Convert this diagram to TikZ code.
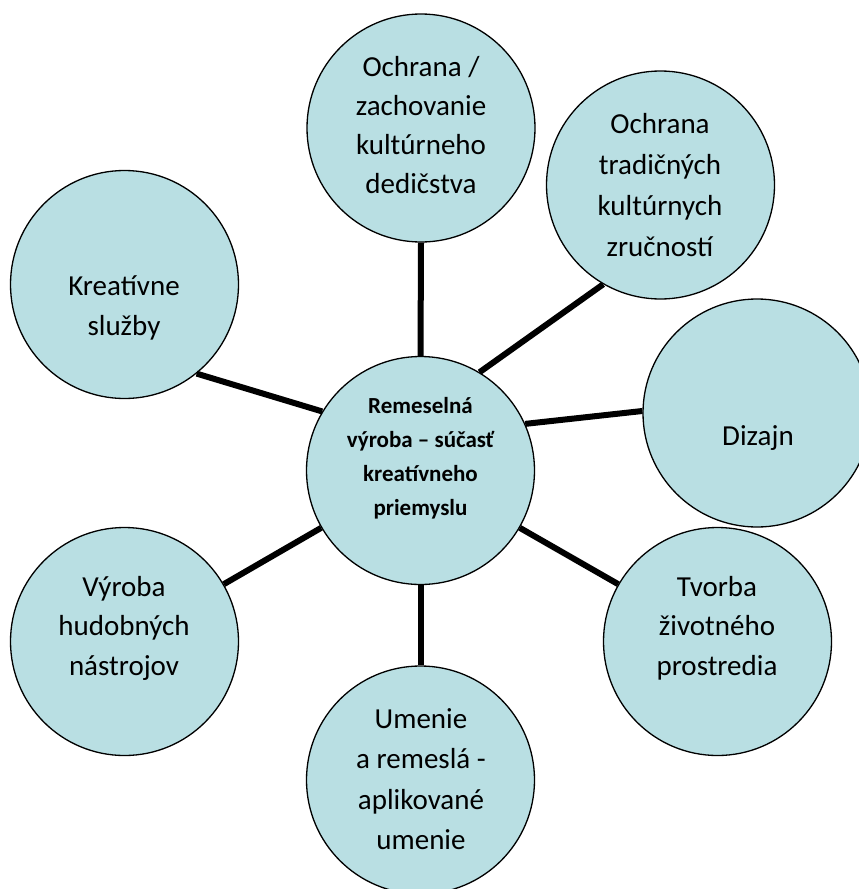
\documentclass[tikz,border=0pt]{standalone}
\usepackage{fontspec}
\setmainfont{Carlito}
\definecolor{bubble}{RGB}{185,223,227}
\tikzset{
  bubblenode/.style={circle, draw=black, line width=1.3pt, fill=bubble,
    minimum size=228pt, inner sep=0pt},
  spoke/.style={line width=6pt, draw=black},
  labeltext/.style={anchor=base, inner sep=0pt},
}
% multi-line label set on its first baseline
\newcommand{\bubbletext}[2]{\parbox[t]{210pt}{\centering\fontsize{29}{#1}\selectfont #2}}
\newcommand{\hubtext}[1]{\parbox[t]{210pt}{\centering\fontsize{23}{34}\selectfont\bfseries #1}}
\begin{document}
\begin{tikzpicture}[x=1pt,y=-1pt]
  \useasboundingbox (0,0) rectangle (859,889);
  \clip (0,0) rectangle (859,889);

  % circles
  \node[bubblenode] (hub) at (420.5,470.5) {};
  \node[bubblenode] (heritage) at (421,128) {};
  \node[bubblenode] (skills) at (660.5,185) {};
  \node[bubblenode] (design) at (757,413) {};
  \node[bubblenode] (environment) at (717.5,641.5) {};
  \node[bubblenode] (arts) at (420.5,780) {};
  \node[bubblenode] (music) at (124.5,641.5) {};
  \node[bubblenode] (services) at (124.5,284.5) {};

  % spokes between the hub and the outer circles
  \draw[spoke] (hub.90) -- (heritage.270);
  \draw[spoke] (hub.59.6) -- (skills.240.3);
  \draw[spoke] (hub.24.3) -- (design.179);
  \draw[spoke] (hub.330) -- (environment.150);
  \draw[spoke] (hub.270) -- (arts.90);
  \draw[spoke] (hub.210.6) -- (music.30);
  \draw[spoke] (hub.149) -- (services.309);

  % labels
  \node[labeltext] (hubT) at (420.5,413) {\hubtext{Remeselná\\výroba – súčasť\\kreatívneho\\priemyslu}};
  \node[labeltext] (heritageT) at (421,76) {\bubbletext{39}{Ochrana /\\zachovanie\\kultúrneho\\dedičstva}};
  \node[labeltext] (skillsT) at (660,133) {\bubbletext{41}{Ochrana\\tradičných\\kultúrnych\\zručností}};
  \node[labeltext] (designT) at (758,445) {\bubbletext{40}{Dizajn}};
  \node[labeltext] (environmentT) at (717,596) {\bubbletext{39.5}{Tvorba\\životného\\prostredia}};
  \node[labeltext] (artsT) at (421,728) {\bubbletext{40.5}{Umenie\\a remeslá -\\aplikované\\umenie}};
  \node[labeltext] (musicT) at (124,596) {\bubbletext{39.5}{Výroba\\hudobných\\nástrojov}};
  \node[labeltext] (servicesT) at (124,295) {\bubbletext{40}{Kreatívne\\služby}};
\end{tikzpicture}
\end{document}
